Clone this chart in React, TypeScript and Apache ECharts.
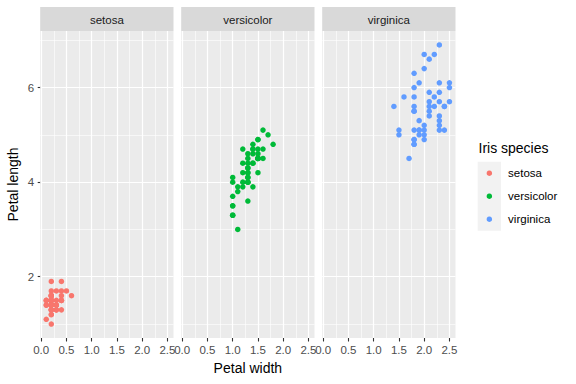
import React, { useEffect, useRef } from "react";
import * as echarts from "echarts";

const species = ["setosa", "versicolor", "virginica"];
const colors = ["#F8766D", "#00BA38", "#619CFF"];

const setosaWidth = [0.2,0.2,0.2,0.2,0.2,0.4,0.3,0.2,0.2,0.1,0.2,0.2,0.1,0.1,0.2,0.4,0.4,0.3,0.3,0.3,0.2,0.4,0.2,0.5,0.2,0.2,0.4,0.2,0.2,0.2,0.2,0.4,0.1,0.2,0.2,0.2,0.2,0.1,0.2,0.2,0.3,0.3,0.2,0.6,0.4,0.3,0.2,0.2,0.2,0.2];
const setosaLength = [1.4,1.4,1.3,1.5,1.4,1.7,1.4,1.5,1.4,1.5,1.5,1.6,1.4,1.1,1.2,1.5,1.3,1.4,1.7,1.5,1.7,1.5,1.0,1.7,1.9,1.6,1.6,1.5,1.4,1.6,1.6,1.5,1.5,1.4,1.5,1.2,1.3,1.4,1.3,1.5,1.3,1.3,1.3,1.6,1.9,1.4,1.6,1.4,1.5,1.4];
const versicolorWidth = [1.4,1.5,1.5,1.3,1.5,1.3,1.6,1.0,1.3,1.4,1.0,1.5,1.0,1.4,1.3,1.4,1.5,1.0,1.5,1.1,1.8,1.3,1.5,1.2,1.3,1.4,1.4,1.7,1.5,1.0,1.1,1.0,1.2,1.6,1.5,1.6,1.5,1.3,1.3,1.3,1.2,1.4,1.2,1.0,1.3,1.2,1.3,1.3,1.1,1.3];
const versicolorLength = [4.7,4.5,4.9,4.0,4.6,4.5,4.7,3.3,4.6,3.9,3.5,4.2,4.0,4.7,3.6,4.4,4.5,4.1,4.5,3.9,4.8,4.0,4.9,4.7,4.3,4.4,4.8,5.0,4.5,3.5,3.8,3.7,3.9,5.1,4.5,4.5,4.7,4.4,4.1,4.0,4.4,4.6,4.0,3.3,4.2,4.2,4.2,4.3,3.0,4.1];
const virginicaWidth = [2.5,1.9,2.1,1.8,2.2,2.1,1.7,1.8,1.8,2.5,2.0,1.9,2.1,2.0,2.4,2.3,1.8,2.2,2.3,1.5,2.3,2.0,2.0,1.8,2.1,1.8,1.8,1.8,2.1,1.6,1.9,2.0,2.2,1.5,1.4,2.3,2.4,1.8,1.8,2.1,2.4,2.3,1.9,2.3,2.5,2.3,1.9,2.0,2.3,1.8];
const virginicaLength = [6.0,5.1,5.9,5.6,5.8,6.6,4.5,6.3,5.8,6.1,5.1,5.3,5.5,5.0,5.1,5.3,5.5,6.7,6.9,5.0,5.7,4.9,6.7,4.9,5.7,6.0,4.8,4.9,5.6,5.8,6.1,6.4,5.6,5.1,5.6,6.1,5.6,5.5,4.8,5.4,5.6,5.1,5.1,5.9,5.7,5.2,5.0,5.2,5.4,5.1];

const widths = [setosaWidth, versicolorWidth, virginicaWidth];
const lengths = [setosaLength, versicolorLength, virginicaLength];

const xTicks = [0, 0.5, 1, 1.5, 2, 2.5];
const xMinor = [0.25, 0.75, 1.25, 1.75, 2.25];
const yTicks = [2, 4, 6];
const yMinor = [1, 3, 5, 7];

const FONT = "'Liberation Sans', Arial, sans-serif";
const panelLefts = [40.2, 181.2, 322.2];
const panelWidth = 133.3;
const panelTop = 31;
const panelHeight = 307;

export default function App() {
  const ref = useRef<HTMLDivElement>(null);
  useEffect(() => {
    if (!ref.current) return;
    const chart = echarts.init(ref.current, null, { renderer: "svg" });
    const grids = panelLefts.map((left) => ({
      left, top: panelTop, width: panelWidth, height: panelHeight,
      show: true, backgroundColor: "#EBEBEB", borderWidth: 0,
    }));
    const xAxes = panelLefts.map((_, i) => ({
      type: "value", gridIndex: i, min: -0.02, max: 2.62,
      axisLine: { show: false },
      axisTick: { show: true, length: 3.5, lineStyle: { color: "#333333", width: 1.1 }, customValues: xTicks },
      axisLabel: { customValues: xTicks, formatter: (v: number) => v.toFixed(1), color: "#4D4D4D", fontSize: 11.5, margin: 6, fontFamily: FONT },
      splitLine: { show: false },
      ...(i === 1 ? { name: "Petal width", nameLocation: "middle", nameGap: 22, nameTextStyle: { color: "#000", fontSize: 14, fontFamily: FONT } } : {}),
    }));
    const yAxes = panelLefts.map((_, i) => ({
      type: "value", gridIndex: i, min: 0.705, max: 7.195,
      axisLine: { show: false },
      axisTick: { show: i === 0, length: 3.5, lineStyle: { color: "#333333", width: 1.1 }, customValues: yTicks },
      axisLabel: { show: i === 0, customValues: yTicks, color: "#4D4D4D", fontSize: 11.5, margin: 6, fontFamily: FONT },
      splitLine: { show: false },
      ...(i === 0 ? { name: "Petal length", nameLocation: "middle", nameGap: 20, nameTextStyle: { color: "#000", fontSize: 14, fontFamily: FONT } } : {}),
    }));
    const gridLines = [
      ...xTicks.map((v) => ({ xAxis: v, lineStyle: { width: 1.2 } })),
      ...xMinor.map((v) => ({ xAxis: v, lineStyle: { width: 0.6 } })),
      ...yTicks.map((v) => ({ yAxis: v, lineStyle: { width: 1.2 } })),
      ...yMinor.map((v) => ({ yAxis: v, lineStyle: { width: 0.6 } })),
    ];
    const series = species.map((name, i) => ({
      type: "scatter", name, xAxisIndex: i, yAxisIndex: i,
      symbol: "circle", symbolSize: 5.5,
      itemStyle: { color: colors[i], opacity: 1 },
      data: widths[i].map((w, j) => [w, lengths[i][j]]),
      markLine: {
        silent: true, symbol: "none", z: 1, animation: false,
        label: { show: false },
        lineStyle: { color: "#FFFFFF", type: "solid" },
        emphasis: { disabled: true },
        data: gridLines,
      },
    }));
    const graphics: any[] = [];
    panelLefts.forEach((left, i) => {
      graphics.push({ type: "rect", left, top: 7, shape: { width: panelWidth, height: 24 }, style: { fill: "#D9D9D9" }, silent: true });
      graphics.push({ type: "text", x: left + panelWidth / 2, y: 19.5, style: { text: species[i], fill: "#1A1A1A", font: `11.5px ${FONT}`, align: "center", verticalAlign: "middle" } });
    });
    graphics.push({ type: "rect", left: 477.7, top: 161.7, shape: { width: 23.3, height: 69 }, style: { fill: "#F2F2F2" }, silent: true, z: -1 });
    graphics.push({ type: "text", x: 478.5, y: 148.3, style: { text: "Iris species", fill: "#000", font: `14px ${FONT}`, align: "left", verticalAlign: "middle" } });
    chart.setOption({
      animation: false,
      grid: grids,
      xAxis: xAxes,
      yAxis: yAxes,
      series,
      graphic: graphics,
      legend: {
        orient: "vertical", left: 486.6, top: 161.7, itemWidth: 5.5, itemHeight: 5.5, itemGap: 0,
        icon: "circle", selectedMode: false, data: species, padding: 0,
        textStyle: { fontSize: 11.5, color: "#000", fontFamily: FONT, lineHeight: 23, padding: [0, 0, 0, 11] },
      },
    });
    return () => chart.dispose();
  }, []);
  return (
    <div style={{ position: "fixed", left: 0, top: 0, width: 576, height: 384, background: "#fff" }}>
      <div ref={ref} style={{ width: 576, height: 384 }} />
    </div>
  );
}
